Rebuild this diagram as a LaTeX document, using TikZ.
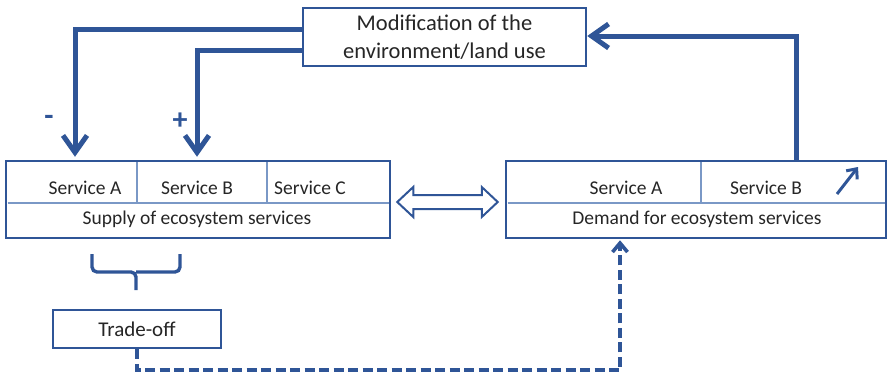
\documentclass[tikz,border=0pt]{standalone}
\usepackage{fontspec}
\setmainfont{Carlito}
\usetikzlibrary{arrows.meta,calc}
\definecolor{bl}{HTML}{2F5597}
\definecolor{dv}{HTML}{7A98C6}
\definecolor{tx}{HTML}{262626}
\begin{document}
\begin{tikzpicture}[x=1pt,y=-1pt,
  box/.style={draw=bl, line width=2.5pt, fill=white, inner sep=0pt, text=tx},
  lbl/.style={text=tx, font=\fontsize{19.5}{23}\selectfont, inner sep=0pt},
  div/.style={draw=dv, line width=1.3pt},
  arr/.style={draw=bl, line width=5pt, -{Straight Barb[length=17pt,width=24pt]}},
  sarr/.style={draw=bl, line width=3pt, -{Straight Barb[length=8pt,width=14pt]}},
  darr/.style={draw=bl, line width=3.6pt, dash pattern=on 10pt off 4.5pt, -{Straight Barb[length=9pt,width=15pt]}},
  sign/.style={text=bl, font=\fontsize{30}{30}\selectfont\bfseries, inner sep=0pt}]
\useasboundingbox (0,0) rectangle (888,375);

% top box
\node[box, minimum width=283pt, minimum height=58pt, align=center,
      font=\fontsize{22.5}{28}\selectfont] (mod) at (444.5,37)
      {Modification of the\\environment/land use};

% supply box
\node[box, minimum width=384pt, minimum height=77pt] (sup) at (198,199.5) {};
\draw[div] (7.5,203) -- (388.5,203);
\draw[div] (137,162) -- (137,203);
\draw[div] (267,162) -- (267,203);
\node[lbl] (sa) at (85,188) {Service A};
\node[lbl] (sb) at (197,188) {Service B};
\node[lbl] (sc) at (310,188) {Service C};
\node[lbl] (st) at (197,219) {Supply of ecosystem services};

% demand box
\node[box, minimum width=380pt, minimum height=77pt] (dem) at (696,199.5) {};
\draw[div] (507.5,203) -- (884.5,203);
\draw[div] (701,162) -- (701,203);
\node[lbl] (da) at (626,188) {Service A};
\node[lbl] (db) at (766,188) {Service B};
\node[lbl] (dt) at (697,219) {Demand for ecosystem services};
\draw[sarr] (837,194) -- (858,167);

% trade-off
\node[box, minimum width=168pt, minimum height=38pt,
      font=\fontsize{21}{24}\selectfont] (tr) at (137,329) {Trade-off};

% brace
\draw[bl, line width=3.4pt, rounded corners=5pt] (92,254) |- (136,272) -- (136,290);
\draw[bl, line width=3.4pt, rounded corners=5pt] (180,254) |- (136,272);

% signs
\node[sign] (minus) at (49,120) {-};
\node[sign] (plus) at (180,121) {+};

% arrows
\draw[arr] ([yshift=8pt]mod.west) -| ([xshift=-123pt,yshift=3pt]sup.north);
\draw[arr] ([yshift=-13pt]mod.west) -| ([xshift=-1pt,yshift=3pt]sup.north);
\draw[arr] ([xshift=100pt]dem.north) |- ([yshift=1pt]mod.east);
\draw[darr] (tr.south) -- ++(0,-21pt) -| ([xshift=-76pt,yshift=-1pt]dem.south);

% double arrow
\coordinate (L) at ([xshift=6pt,yshift=-2.5pt]sup.east);
\coordinate (R) at ([xshift=-7pt,yshift=-2.5pt]dem.west);
\draw[bl, line width=2pt, line join=miter, fill=white]
  (L) -- ++(16pt,15pt) -- ++(0,-8pt) -- ($(R)+(-16pt,7pt)$) -- ++(0,8pt)
  -- (R) -- ++(-16pt,-15pt) -- ++(0,8pt) -- ($(L)+(16pt,-7pt)$) -- ++(0,-8pt) -- cycle;
\end{tikzpicture}
\end{document}
